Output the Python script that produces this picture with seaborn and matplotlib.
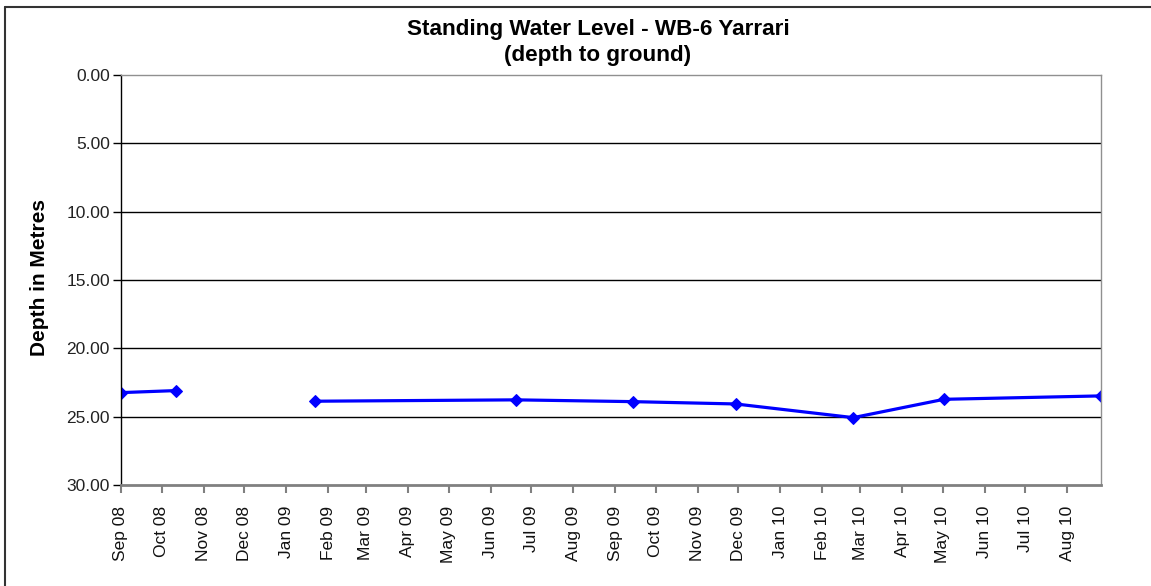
import pandas as pd
import numpy as np
import matplotlib
matplotlib.use('Agg')
import matplotlib.pyplot as plt
import matplotlib.dates as mdates
from matplotlib.lines import Line2D
import seaborn as sns

# data (depth to water, metres)
dates = ['2008-09-01', '2008-10-12', '2009-01-22', '2009-06-20', '2009-09-14',
         '2009-11-29', '2010-02-24', '2010-05-02', '2010-08-26']
depth = [23.24, 23.09, 23.87, 23.77, 23.90, 24.07, 25.07, 23.73, 23.48]
segment = [1, 1, 2, 2, 2, 2, 2, 2, 2]   # gap in the record between Oct 08 and Jan 09

df = pd.DataFrame({'date': pd.to_datetime(dates), 'depth': depth, 'seg': segment})

sns.set_style('white')
plt.rcParams['font.family'] = ['Liberation Sans', 'DejaVu Sans']

fig = plt.figure(figsize=(11.51, 5.86), dpi=100)
ax = fig.add_axes([121/1151, 1 - 485/586, 980/1151, 410/586])

sns.lineplot(data=df, x='date', y='depth', units='seg', estimator=None,
             color='#0000FF', lw=2.3, marker='D', markersize=6.5,
             markeredgecolor='#0000FF', ax=ax)

ax.set_ylim(30, 0)
ax.set_yticks(np.arange(0, 31, 5))
ax.set_yticklabels([f'{v:.2f}' for v in np.arange(0, 31, 5)])
for v in range(5, 30, 5):
    ax.axhline(v, color='black', lw=1, zorder=0)

ax.set_xlim(pd.Timestamp('2008-09-01'), pd.Timestamp('2010-08-26'))
ax.xaxis.set_major_locator(mdates.MonthLocator())
ax.xaxis.set_major_formatter(mdates.DateFormatter('%b %y'))

ax.tick_params(axis='x', rotation=90, labelsize=12.5, length=6, width=1.5,
               color='#808080', labelcolor='#111111', pad=9, direction='out',
               bottom=True)
ax.tick_params(axis='y', labelsize=12.5, length=6, width=1, color='black',
               labelcolor='#222222', pad=2, direction='out', left=True)

ax.set_xlabel('')
ax.set_ylabel('')
for side in ['top', 'right']:
    ax.spines[side].set_color('#909090')
    ax.spines[side].set_linewidth(1)
ax.spines['bottom'].set_color('#808080')
ax.spines['bottom'].set_linewidth(2)
ax.spines['left'].set_color('black')
ax.spines['left'].set_linewidth(1)

fig.text(598/1151, 1 - 30/586, 'Standing Water Level - WB-6 Yarrari',
         ha='center', va='center', fontsize=16.2, fontweight='bold', color='black')
fig.text(598/1151, 1 - 55/586, '(depth to ground)',
         ha='center', va='center', fontsize=16.2, fontweight='bold', color='black')
fig.text(40/1151, 1 - 277/586, 'Depth in Metres', rotation=90,
         ha='center', va='center', fontsize=15, fontweight='bold', color='black')

# outer chart-area border (top and left edges visible)
fig.add_artist(Line2D([5/1151, 1], [1 - 7/586, 1 - 7/586], color='#333333', lw=1.5))
fig.add_artist(Line2D([5/1151, 5/1151], [0, 1 - 7/586], color='#333333', lw=1.5))

fig.savefig('out.png', dpi=100)
